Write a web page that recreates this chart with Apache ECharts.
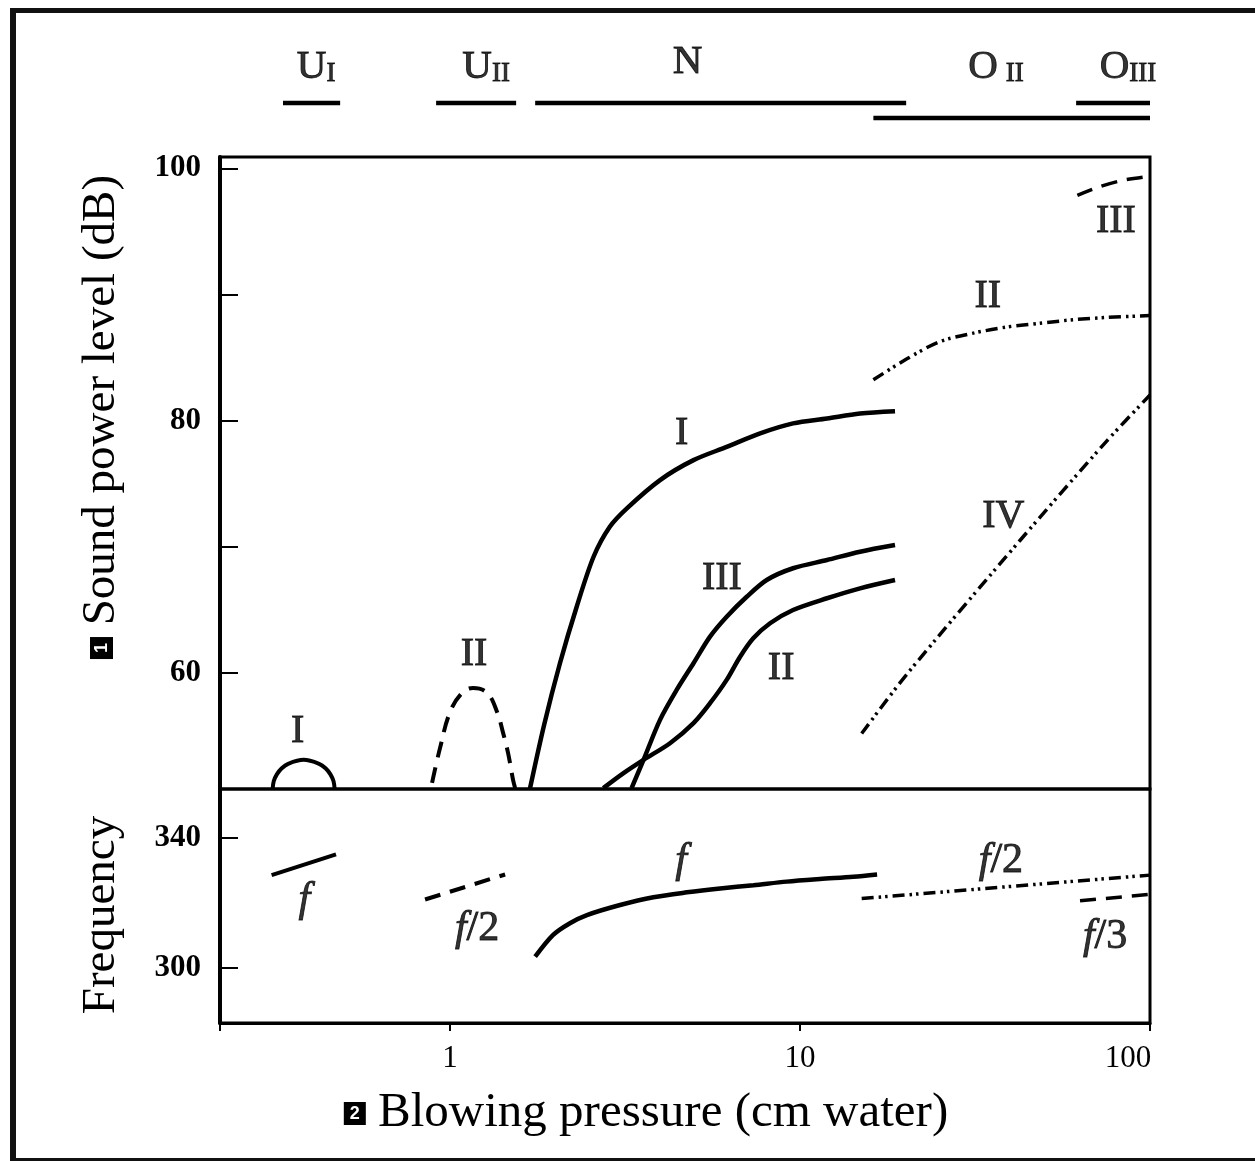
<!DOCTYPE html>
<html>
<head>
<meta charset="utf-8">
<script src="https://cdn.jsdelivr.net/npm/echarts@6/dist/echarts.min.js"></script>
<style>
html,body{margin:0;padding:0;background:#fff;overflow:hidden;width:1255px;height:1161px;}
#chart{position:absolute;left:0;top:0;width:1255px;height:1161px;}
.edge{position:absolute;background:#111;pointer-events:none;z-index:5;}
#eLeft{left:10px;top:8px;width:6px;height:1153px;}
#eTop{left:10px;top:8px;width:1245px;height:5px;}
#eBottom{left:10px;top:1158px;width:1245px;height:3px;}
#cover{position:absolute;left:1236px;top:13px;width:19px;height:1145px;background:#fff;z-index:6;pointer-events:none;}
</style>
</head>
<body>
<div id="chart"></div>
<div class="edge" id="eLeft"></div>
<div class="edge" id="eTop"></div>
<div class="edge" id="eBottom"></div>
<div id="cover"></div>
<script>
// ---------------- DATA ----------------
const pressureMin = 0.22, pressureMax = 100;          // blowing pressure range (cm water), log scale
const dbMin = 50.8, dbMax = 100.9;                    // sound power level range (dB)
const hzMin = 283.1, hzMax = 355.1;                   // frequency range
const dbTicks = [60, 70, 80, 90, 100];
const dbTickLabels = [60, 80, 100];
const hzTicks = [300, 340];

// Regime bars above the chart
const regimeText  = ['{m|U}{s|I}', '{m|U}{s|II}', '{m|N}', '{m|O}{g|II}', '{m|O}{s|III}'];
const regimeStart = [0.333, 0.912, 1.75, 16.2, 61.5];
const regimeEnd   = [0.485, 1.544, 20.1, 100, 100];
const regimeLane  = [0, 0, 0, 1, 0];
const regimeLabelX = [0.414, 1.267, 4.77, 36.3, 86.5];

// Upper panel: sound power level (dB)
const uI_p   = [0.3111, 0.3133, 0.3198, 0.3303, 0.3445, 0.3815, 0.4222, 0.4406, 0.4550, 0.4644, 0.4677];
const uI_db  = [50.8, 51.41, 51.96, 52.44, 52.80, 53.11, 52.80, 52.44, 51.96, 51.41, 50.8];
const uII_p  = [0.888, 0.936, 1.0, 1.082, 1.163, 1.275, 1.362, 1.417, 1.464, 1.513, 1.534];
const uII_db = [51.29, 54.06, 56.91, 58.42, 58.81, 58.42, 56.91, 55.25, 53.66, 51.52, 50.87];
const nI_p   = [1.69, 1.856, 2.06, 2.30, 2.57, 2.86, 3.20, 3.98, 4.96, 6.17, 7.69, 9.55, 11.94, 14.84, 18.68];
const nI_db  = [50.8, 55.88, 60.77, 65.25, 69.21, 71.59, 73.05, 75.29, 76.87, 77.92, 78.99, 79.78, 80.17, 80.57, 80.75];
const nIII_p  = [3.30, 3.57, 3.98, 4.44, 4.96, 5.53, 6.17, 7.04, 8.03, 9.55, 11.94, 14.84, 18.68];
const nIII_db = [50.87, 53.11, 56.28, 58.65, 60.77, 62.88, 64.46, 66.04, 67.37, 68.30, 68.95, 69.61, 70.14];
const nII_p   = [2.74, 3.13, 3.57, 4.25, 4.96, 5.53, 6.17, 6.74, 7.35, 8.21, 9.55, 11.94, 14.84, 18.68];
const nII_db  = [50.87, 52.06, 53.11, 54.43, 56.02, 57.60, 59.45, 61.29, 62.75, 63.94, 64.99, 65.92, 66.71, 67.37];
const oII_p   = [16.2, 20.2, 25.1, 31.3, 38.9, 48.5, 60.4, 75.2, 100];
const oII_db  = [83.24, 84.90, 86.27, 86.94, 87.42, 87.72, 88.0, 88.18, 88.33];
const oIII_p  = [62.0, 71.9, 83.9, 100];
const oIII_db = [97.85, 98.55, 99.06, 99.37];
const oIV_p   = [15.0, 20.2, 42.5, 75.2, 100];
const oIV_db  = [55.20, 59.90, 70.50, 78.38, 82.03];

// Lower panel: frequency
const fUI_p   = [0.309, 0.472];
const fUI_hz  = [328.6, 335.0];
const fUII_p  = [0.848, 1.436];
const fUII_hz = [321.1, 328.8];
const fN_p    = [1.75, 1.97, 2.20, 2.46, 3.06, 3.81, 4.75, 5.91, 7.36, 9.16, 11.4, 14.2, 16.6];
const fN_hz   = [303.5, 310.2, 313.8, 316.3, 319.4, 321.8, 323.3, 324.5, 325.5, 326.6, 327.4, 328.1, 328.8];
const fO2_p   = [15.0, 100];
const fO2_hz  = [321.4, 328.6];
const fO3_p   = [63.1, 100];
const fO3_hz  = [320.7, 322.7];

// Curve annotations
const upperNoteText = ['I', 'II', 'I', 'III', 'II', 'II', 'III', 'IV'];
const upperNoteP    = [0.367, 1.171, 4.59, 5.98, 8.83, 34.4, 79.9, 38.1];
const upperNoteDb   = [55.33, 61.5, 79.0, 67.45, 60.32, 89.82, 95.8, 72.4];
const lowerNoteText = ['f', 'f/2', 'f', 'f/2', 'f/3'];
const lowerNoteP    = [0.383, 1.194, 4.57, 37.5, 74.4];
const lowerNoteHz   = [320.9, 312.0, 332.9, 332.9, 309.5];

// ---------------- CHART ----------------
const SERIF = "'Liberation Serif','Times New Roman',serif";
const zip = (a, b) => a.map((v, i) => [v, b[i]]);
const SOLID = 'solid';
const DASH = [16, 10];
const DASHDOT = [12, 5, 2.5, 4, 2.5, 5];
const INK = { color: '#000', textBorderColor: '#000', textBorderWidth: 0.9 };

function curve(xs, ys, grid, type, width, smooth) {
  return {
    type: 'line', xAxisIndex: grid, yAxisIndex: grid, data: zip(xs, ys),
    showSymbol: false, symbol: 'none', smooth: smooth, silent: true, z: 3,
    lineStyle: { color: '#000', width: width, type: type, cap: 'butt' }
  };
}

function notes(xs, ys, texts, grid, fontSize) {
  return {
    type: 'scatter', xAxisIndex: grid, yAxisIndex: grid, symbolSize: 1, silent: true, z: 4,
    itemStyle: { color: 'rgba(0,0,0,0)' },
    data: xs.map((x, i) => [x, ys[i], texts[i]]),
    label: Object.assign({
      show: true, position: 'inside', fontFamily: SERIF, fontSize: fontSize,
      formatter: p => String(p.data[2]).replace(/^f/, '{i|f}'),
      rich: { i: Object.assign({ fontStyle: 'italic', fontFamily: SERIF, fontSize: fontSize }, INK) }
    }, INK)
  };
}

const laneLevel = lane => (lane === 0 ? 0.37 : 0.22);
const regimeSeries = regimeStart.map((s, i) => ({
  type: 'line', xAxisIndex: 0, yAxisIndex: 0, showSymbol: false, symbol: 'none', silent: true,
  data: [[s, laneLevel(regimeLane[i])], [regimeEnd[i], laneLevel(regimeLane[i])]],
  lineStyle: { color: '#000', width: 4.5, type: 'solid', cap: 'butt' }
}));
const regimeLabelSeries = {
  type: 'scatter', xAxisIndex: 0, yAxisIndex: 0, symbolSize: 1, silent: true,
  itemStyle: { color: 'rgba(0,0,0,0)' },
  data: regimeLabelX.map((x, i) => [x, regimeText[i] === '{m|N}' ? 0.78 : 0.73, regimeText[i]]),
  label: Object.assign({
    show: true, position: 'inside', fontFamily: SERIF,
    formatter: p => p.data[2],
    rich: {
      m: Object.assign({ fontSize: 41, lineHeight: 41, verticalAlign: 'bottom', fontFamily: SERIF }, INK),
      s: Object.assign({ fontSize: 27, lineHeight: 27, verticalAlign: 'bottom', fontFamily: SERIF }, INK),
      g: Object.assign({ fontSize: 27, lineHeight: 27, verticalAlign: 'bottom', fontFamily: SERIF, padding: [0, 0, 0, 8] }, INK)
    }
  }, INK)
};

const logAxis = { type: 'log', logBase: 10, min: pressureMin, max: pressureMax, splitLine: { show: false }, minorTick: { show: false }, minorSplitLine: { show: false } };
const boxStyle = { backgroundColor: '#000', color: '#fff', fontSize: 18, fontWeight: 'bold', fontFamily: "'Liberation Sans',sans-serif", padding: [3, 6, 2, 6] };

const option = {
  backgroundColor: '#fff',
  animation: false,
  grid: [
    { left: 220, top: 40, width: 930, height: 100, show: false, outerBoundsMode: 'none' },
    { left: 220, top: 157, width: 930, height: 632, show: true, borderColor: '#000', borderWidth: 3, backgroundColor: 'transparent', outerBoundsMode: 'none' },
    { left: 220, top: 789, width: 930, height: 234, show: true, borderColor: '#000', borderWidth: 3, backgroundColor: 'transparent', outerBoundsMode: 'none' }
  ],
  xAxis: [
    Object.assign({}, logAxis, { gridIndex: 0, show: false }),
    Object.assign({}, logAxis, { gridIndex: 1, axisLine: { show: false }, axisTick: { show: false }, axisLabel: { show: false } }),
    Object.assign({}, logAxis, {
      gridIndex: 2,
      axisLine: { show: true, lineStyle: { color: '#000', width: 3 } },
      axisTick: { show: true, inside: false, length: 8, lineStyle: { color: '#000', width: 2 } },
      axisLabel: {
        color: '#000', fontFamily: SERIF, fontSize: 31, margin: 20,
        formatter: v => {
          const l = Math.log10(v);
          if (Math.abs(l - Math.round(l)) > 1e-6) return '';
          const s = String(Math.round(v));
          return v > 50 ? '{r|' + s + '}' : s;
        },
        rich: { r: { fontFamily: SERIF, fontSize: 31, color: '#000', padding: [0, 44, 0, 0] } }
      },
      name: '{box|2} Blowing pressure (cm water)',
      nameLocation: 'middle', nameGap: 66,
      nameTextStyle: { color: '#000', fontFamily: SERIF, fontSize: 49, padding: [0, 78, 0, 0], rich: { box: boxStyle } }
    })
  ],
  yAxis: [
    { gridIndex: 0, type: 'value', min: 0, max: 1, show: false },
    {
      gridIndex: 1, type: 'value', min: dbMin, max: dbMax,
      axisLine: { show: true, lineStyle: { color: '#000', width: 4 } },
      axisTick: { show: true, inside: true, length: 18, customValues: dbTicks, lineStyle: { color: '#000', width: 2 } },
      axisLabel: { customValues: dbTickLabels, color: '#000', fontFamily: SERIF, fontSize: 31, fontWeight: 'bold', margin: 19 },
      splitLine: { show: false },
      name: '{box|1} Sound power level (dB)',
      nameLocation: 'middle', nameGap: 95, nameRotate: 90,
      nameTextStyle: { color: '#000', fontFamily: SERIF, fontSize: 47, padding: [0, 0, 0, 112], rich: { box: boxStyle } }
    },
    {
      gridIndex: 2, type: 'value', min: hzMin, max: hzMax,
      axisLine: { show: true, lineStyle: { color: '#000', width: 4 } },
      axisTick: { show: true, inside: true, length: 18, customValues: hzTicks, lineStyle: { color: '#000', width: 2 } },
      axisLabel: { customValues: hzTicks, color: '#000', fontFamily: SERIF, fontSize: 31, fontWeight: 'bold', margin: 19 },
      splitLine: { show: false },
      name: 'Frequency',
      nameLocation: 'middle', nameGap: 95, nameRotate: 90,
      nameTextStyle: { color: '#000', fontFamily: SERIF, fontSize: 47, padding: [0, 18, 0, 0] }
    }
  ],
  series: [].concat(regimeSeries, [regimeLabelSeries,
    curve(uI_p, uI_db, 1, SOLID, 4, 0.3),
    curve(uII_p, uII_db, 1, DASH, 4, 0.4),
    curve(nI_p, nI_db, 1, SOLID, 4.5, 0.3),
    curve(nIII_p, nIII_db, 1, SOLID, 4.5, 0.3),
    curve(nII_p, nII_db, 1, SOLID, 4.5, 0.3),
    curve(oII_p, oII_db, 1, DASHDOT, 3.5, 0.3),
    curve(oIII_p, oIII_db, 1, DASH, 3.5, 0.3),
    curve(oIV_p, oIV_db, 1, DASHDOT, 3.5, 0.3),
    curve(fUI_p, fUI_hz, 2, SOLID, 4, false),
    curve(fUII_p, fUII_hz, 2, DASH, 4, false),
    curve(fN_p, fN_hz, 2, SOLID, 4.5, 0.3),
    curve(fO2_p, fO2_hz, 2, DASHDOT, 3.5, false),
    curve(fO3_p, fO3_hz, 2, DASH, 3.5, false),
    notes(upperNoteP, upperNoteDb, upperNoteText, 1, 40),
    notes(lowerNoteP, lowerNoteHz, lowerNoteText, 2, 42)
  ])
};

const chart = echarts.init(document.getElementById('chart'));
chart.setOption(option);
</script>
</body>
</html>
